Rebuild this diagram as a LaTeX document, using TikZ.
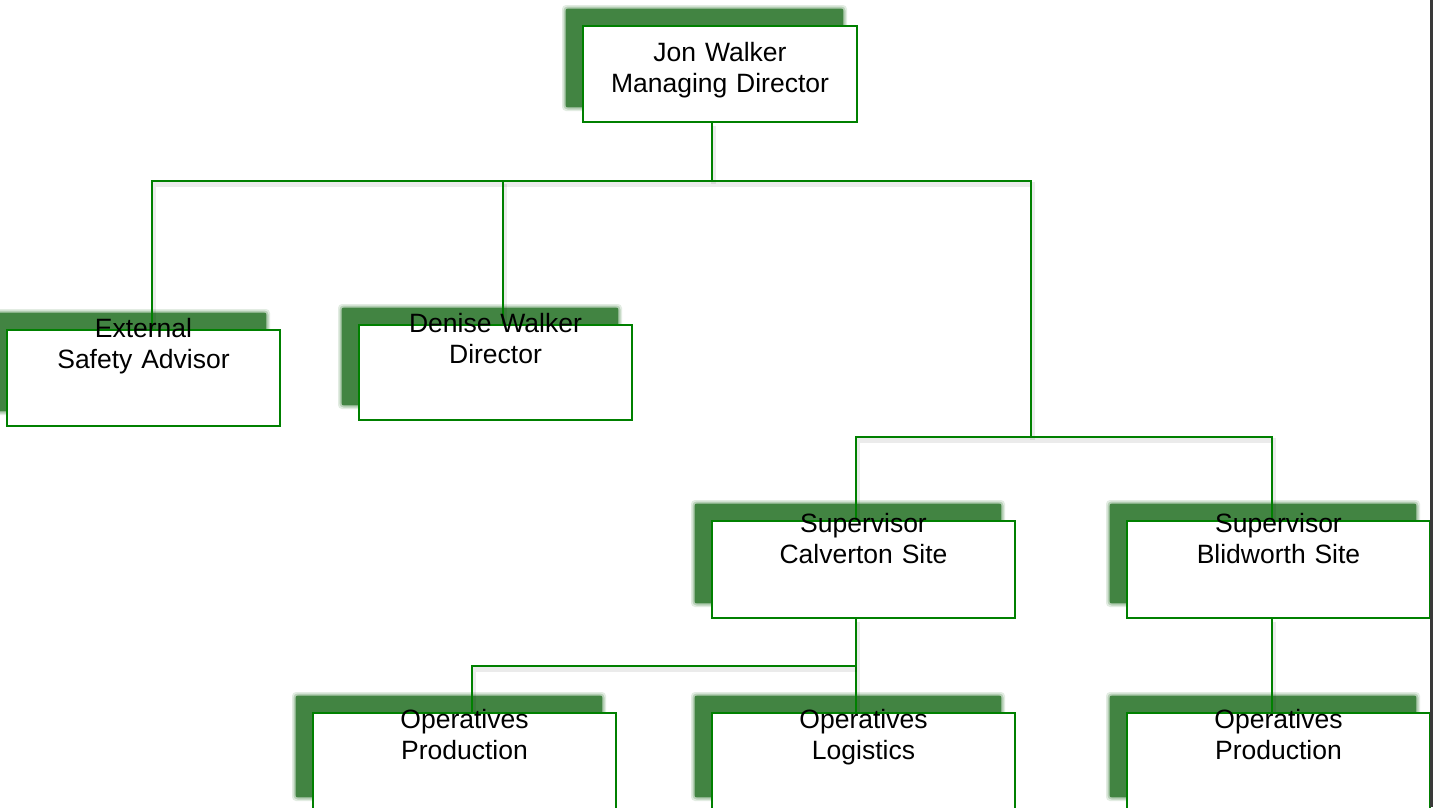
\documentclass[tikz,border=0pt]{standalone}
\usepackage{fontspec}
\setmainfont{Liberation Sans}
\definecolor{linegreen}{RGB}{0,128,0}
\definecolor{shadowgreen}{RGB}{66,132,66}
\definecolor{edgegray}{RGB}{58,58,58}
\pgfdeclarelayer{shadowlayer}
\pgfdeclarelayer{linelayer}
\pgfsetlayers{shadowlayer,linelayer,main}
\tikzset{
  orgbox/.style={draw=linegreen, fill=white, line width=2.4pt, inner sep=0pt, rectangle},
  orglabel/.style={inner sep=0pt, anchor=base, align=center, text width=330pt,
    font=\fontsize{26.5}{31}\selectfont},
  conn/.style={draw=linegreen, line width=2.4pt,
    preaction={draw=black, opacity=0.08, line width=5pt, transform canvas={shift={(1,3)}}}},
}
\newcommand\OrgBox[8]{%
  \begin{pgfonlayer}{shadowlayer}
    \foreach \e/\o in {4/0.15,2.5/0.25,1.2/0.4}{%
      \fill[shadowgreen, opacity=\o, rounded corners=4pt]
        ({#2-17-\e},{#3-17-\e}) rectangle ({#4-14+\e},{#5-15+\e});}
    \fill[shadowgreen] ({#2-17},{#3-17}) rectangle ({#4-14},{#5-15});
  \end{pgfonlayer}
  \node[orgbox, minimum width={#4-#2}, minimum height={#5-#3}] (#1)
    at ({(#2+#4)/2},{(#3+#5)/2}) {};
  \node[orglabel] (#1-text) at (#6,#7) {#8};
}
\begin{document}
\begin{tikzpicture}[x=1pt,y=-1pt]
\useasboundingbox (0,0) rectangle (1433,807);
\clip (0,0) rectangle (1433,807);
\begin{pgfonlayer}{shadowlayer}
  \fill[white] (0,0) rectangle (1433,807);
\end{pgfonlayer}

\OrgBox{md}{583}{26}{857}{122}{720}{61}{Jon Walker\\Managing Director}
\OrgBox{ext}{7}{330}{280}{426}{143.5}{337}{External\\Safety Advisor}
\OrgBox{den}{359}{325}{632}{420}{495.5}{332}{Denise Walker\\Director}
\OrgBox{cal}{712}{521}{1015}{618}{863.5}{532.5}{Supervisor\\Calverton Site}
\OrgBox{bli}{1127}{521}{1430}{618}{1278.5}{532.5}{Supervisor\\Blidworth Site}
\OrgBox{opa}{313}{713}{616}{812}{464.5}{728}{Operatives\\Production}
\OrgBox{opb}{712}{713}{1015}{812}{863.5}{728}{Operatives\\Logistics}
\OrgBox{opc}{1127}{713}{1430}{812}{1278.5}{728}{Operatives\\Production}

\coordinate (b1l) at (152,181);
\coordinate (b1m) at (712,181);
\coordinate (b1d) at (503,181);
\coordinate (b1r) at (1031,181);
\coordinate (b2r) at (1031,437);
\coordinate (b2l) at (856,437);
\coordinate (b2e) at (1272,437);
\coordinate (b3r) at (856,666);
\coordinate (b3l) at (472,666);

\begin{pgfonlayer}{linelayer}
  \draw[conn] (b1m |- md.south) -- (b1m);
  \draw[conn] (ext.north -| b1l) -- (b1l) -- (b1r) -- (b2r);
  \draw[conn] (b1d) -- (den.north -| b1d);
  \draw[conn] (cal.north -| b2l) -- (b2l) -- (b2e) -- (bli.north -| b2e);
  \draw[conn] (cal.south -| b3r) -- (opb.north -| b3r);
  \draw[conn] (b3r) -- (b3l) -- (opa.north -| b3l);
  \draw[conn] (bli.south -| b2e) -- (opc.north -| b2e);
\end{pgfonlayer}

\draw[edgegray, line width=2.2pt] (1431.4,0) -- (1431.4,807);
\end{tikzpicture}
\end{document}
